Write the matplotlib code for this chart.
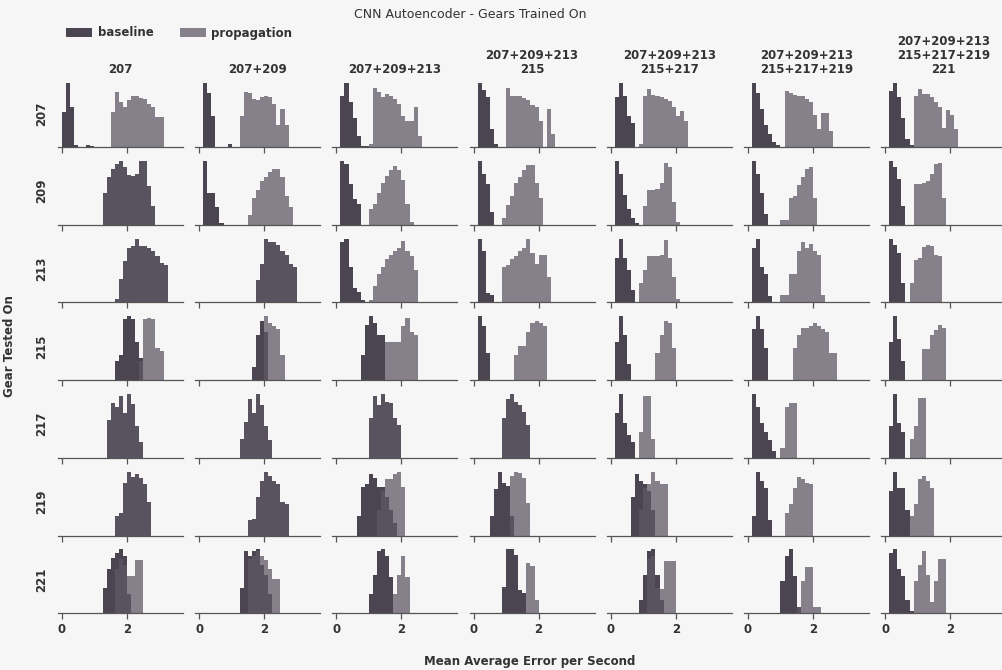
import matplotlib
matplotlib.use("Agg")
import matplotlib.pyplot as plt
from matplotlib.patches import Patch

# ---------------- data ----------------
gears = ["207", "209", "213", "215", "217", "219", "221"]
train_titles = ["207", "207+209", "207+209+213", "207+209+213\n215",
                "207+209+213\n215+217", "207+209+213\n215+217+219",
                "207+209+213\n215+217+219\n221"]
series_names = ["baseline", "propagation"]
BIN = 0.125          # histogram bin width (MAE units)
xticks = [0, 2]

# each entry: (left edge of first bin, bin heights in % of the panel's tallest bin)
# one entry per training-set column
base_207 = [(0.0, [55, 100, 62, 3, 0, 0, 3, 2]), (0.125, [100, 85, 48, 0, 0, 0, 4]),
            (0.125, [80, 100, 70, 45, 18, 2, 2]), (0.125, [100, 90, 78, 28, 4]),
            (0.125, [78, 100, 80, 49, 37]), (0.125, [100, 85, 60, 35, 20, 8, 3]),
            (0.125, [87, 100, 78, 46, 12, 3])]
prop_207 = [(1.5, [55, 86, 70, 63, 74, 80, 80, 77, 75, 68, 62, 47, 47]),
            (1.25, [49, 86, 85, 75, 74, 78, 80, 78, 67, 35, 60, 35]),
            (1.0, [5, 93, 86, 78, 83, 80, 75, 67, 49, 41, 41, 62, 17]),
            (1.0, [93, 80, 80, 80, 77, 73, 66, 62, 40, 0, 60, 20]),
            (0.875, [5, 80, 91, 82, 80, 78, 75, 72, 63, 49, 57, 41]),
            (1.125, [87, 84, 82, 80, 80, 75, 70, 50, 28, 53, 53, 25]),
            (0.875, [80, 91, 83, 83, 78, 70, 62, 30, 58, 50, 28])]

base_209 = [(1.25, [50, 75, 88, 95, 100, 90, 78, 76, 80, 100, 100, 60, 30]),
            (0.125, [100, 50, 50, 27, 3]), (0.125, [100, 95, 63, 40, 32]),
            (0.125, [100, 80, 63, 20]), (0.125, [100, 80, 47, 25, 10, 3]),
            (0.125, [100, 80, 50, 16]), (0.125, [100, 90, 72, 30])]
prop_209 = [(1.25, [50, 75, 88, 95, 100, 90, 78, 76, 80, 100, 100, 60, 30]),
            (1.5, [15, 42, 55, 68, 75, 82, 87, 88, 75, 45, 27]),
            (1.0, [25, 33, 50, 66, 76, 85, 92, 86, 70, 32, 5]),
            (0.875, [10, 31, 45, 66, 75, 85, 93, 93, 65, 42]),
            (1.0, [30, 55, 55, 56, 65, 97, 90, 35, 5]),
            (1.0, [8, 8, 42, 45, 62, 75, 88, 91, 42]),
            (0.875, [63, 63, 65, 68, 80, 95, 97, 42])]

base_213 = [(1.625, [5, 37, 65, 85, 89, 100, 89, 88, 86, 80, 72, 62, 58]),
            (1.75, [35, 60, 100, 94, 95, 90, 80, 75, 60, 55]),
            (0.125, [94, 100, 55, 22, 16, 3]), (0.125, [100, 80, 15, 12]),
            (0.125, [70, 100, 70, 50, 20]), (0.125, [85, 100, 55, 45, 10]),
            (0.125, [100, 90, 78, 30])]
prop_213 = [(1.625, [5, 37, 65, 85, 89, 100, 89, 88, 86, 80, 72, 62, 58]),
            (1.75, [35, 60, 100, 94, 95, 90, 80, 75, 60, 55]),
            (1.0, [3, 25, 45, 55, 68, 74, 80, 86, 96, 80, 72, 50]),
            (0.875, [55, 58, 68, 72, 80, 85, 100, 78, 60, 75, 75, 40]),
            (0.875, [30, 51, 72, 72, 72, 75, 98, 70, 40, 5]),
            (1.0, [12, 12, 45, 45, 80, 95, 85, 92, 80, 74, 12]),
            (0.75, [30, 66, 70, 87, 90, 88, 75, 72])]

base_215 = [(1.625, [30, 40, 95, 100, 95, 60, 35]), (1.625, [20, 70, 92, 75]),
            (0.75, [40, 86, 100, 90, 70, 70]), (0.125, [100, 85, 43]),
            (0.125, [60, 100, 70, 25]), (0.125, [80, 100, 80, 50]),
            (0.125, [60, 100, 65, 30])]
prop_215 = [(2.375, [30, 95, 97, 95, 50, 45]), (2.0, [100, 90, 85, 80, 40]),
            (1.5, [59, 59, 60, 60, 85, 97, 75, 70]),
            (1.25, [40, 54, 54, 75, 89, 92, 90, 85]),
            (1.375, [43, 70, 92, 90, 50]),
            (1.375, [50, 70, 81, 81, 85, 89, 85, 80, 75, 43, 43]),
            (1.125, [48, 48, 70, 78, 86, 81])]

base_217 = [(1.375, [60, 86, 80, 97, 70, 100, 85, 50, 25]),
            (1.25, [30, 56, 92, 70, 100, 83, 50, 28]),
            (1.0, [60, 94, 80, 97, 85, 83, 60, 50]),
            (0.875, [60, 90, 97, 85, 80, 70, 50]),
            (0.125, [70, 100, 55, 35, 25]), (0.125, [100, 80, 55, 40, 28, 10]),
            (0.125, [50, 100, 55, 40])]
prop_217 = [(1.375, [60, 86, 80, 97, 70, 100, 85, 50, 25]),
            (1.25, [30, 56, 92, 70, 100, 83, 50, 28]),
            (1.0, [60, 94, 80, 97, 85, 83, 60, 50]),
            (0.875, [60, 90, 97, 85, 80, 70, 50]),
            (0.875, [40, 97, 97, 30]), (1.0, [15, 80, 86, 86]),
            (0.75, [30, 50, 94, 94])]

base_219 = [(1.625, [30, 35, 82, 100, 92, 97, 90, 80, 53]),
            (1.5, [25, 26, 60, 85, 100, 94, 85, 80, 53, 50]),
            (0.625, [30, 76, 80, 97, 90, 76, 76, 60, 40, 20]),
            (0.5, [30, 70, 97, 80, 76, 30]),
            (0.625, [60, 97, 85, 80, 70, 40]),
            (0.125, [30, 100, 85, 74, 25]), (0.125, [70, 100, 74, 74, 40])]
prop_219 = [(1.625, [30, 35, 82, 100, 92, 97, 90, 80, 53]),
            (1.5, [25, 26, 60, 85, 100, 94, 85, 80, 53, 50]),
            (1.25, [40, 70, 88, 88, 97, 100, 76]),
            (1.125, [90, 97, 95, 88, 50]),
            (0.875, [40, 75, 80, 100, 85, 80, 80]),
            (1.125, [35, 50, 74, 91, 88, 82, 80]),
            (0.75, [30, 50, 88, 94, 85, 74])]

base_221 = [(1.25, [40, 69, 87, 95, 100, 90, 30]),
            (1.25, [40, 97, 89, 97, 100, 75, 60, 30]),
            (1.0, [30, 60, 97, 100, 90, 56]),
            (0.875, [40, 97, 97, 88, 36, 30]),
            (0.875, [20, 60, 97, 100, 60, 20]),
            (1.0, [50, 90, 100, 58, 10]),
            (0.125, [95, 100, 70, 58, 20, 3])]
prop_221 = [(1.625, [70, 85, 75, 58, 58, 84, 84]),
            (1.5, [85, 90, 97, 90, 84, 70, 53, 53]),
            (1.75, [30, 60, 89, 56]),
            (1.625, [76, 72, 20]),
            (1.125, [85, 90, 40, 38, 82, 82, 82]),
            (1.5, [10, 50, 72, 72, 9, 9]),
            (0.875, [50, 76, 98, 60, 18, 50, 85, 85])]

BASE = [base_207, base_209, base_213, base_215, base_217, base_219, base_221]
PROP = [prop_207, prop_209, prop_213, prop_215, prop_217, prop_219, prop_221]

# ---------------- style ----------------
BG = "#f6f6f6"
TXT = "#333333"
C_BASE = "#110a19"
C_PROP = "#5f5966"
ALPHA = 0.75
plt.rcParams["font.family"] = ["DejaVu Sans"]

W, H = 1003, 670
fig = plt.figure(figsize=(W / 100, H / 100), dpi=100, facecolor=BG)

AX_L0, AX_DX, AX_W = 58, 137.2, 125
AX_B0, AX_DY, AX_H = 147, 77.7, 67


def draw_hist(ax, spec, color):
    start, heights = spec
    lefts = [start + i * BIN for i in range(len(heights))]
    ax.bar(lefts, heights, width=BIN, align="edge", color=color,
           alpha=ALPHA, linewidth=0)


for r, gear in enumerate(gears):
    bottom_px = AX_B0 + AX_DY * r
    for c in range(len(train_titles)):
        left_px = AX_L0 + AX_DX * c
        ax = fig.add_axes([left_px / W, 1 - bottom_px / H, AX_W / W, AX_H / H])
        ax.set_facecolor("none")
        draw_hist(ax, BASE[r][c], C_BASE)
        draw_hist(ax, PROP[r][c], C_PROP)
        top = max(max(BASE[r][c][1]), max(PROP[r][c][1]))
        ax.set_ylim(0, top * 1.05)
        ax.set_xlim(-0.12, 3.72)
        ax.set_xticks(xticks)
        ax.tick_params(axis="x", length=4, width=0.9, color="#555555",
                       labelsize=8.5, labelcolor=TXT, pad=3)
        for t in ax.get_xticklabels():
            t.set_fontweight("bold")
        if r < len(gears) - 1:
            ax.set_xticklabels([])
        ax.set_yticks([])
        for s in ["left", "right", "top"]:
            ax.spines[s].set_visible(False)
        ax.spines["bottom"].set_color("#555555")
        ax.spines["bottom"].set_linewidth(0.9)
        if r == 0:
            ax.set_title(train_titles[c], fontsize=8.5, fontweight="bold",
                         color=TXT, pad=5, linespacing=1.1)
    fig.text(42 / W, 1 - (bottom_px - AX_H / 2) / H, gear, rotation=90,
             ha="center", va="center", fontsize=8.5, fontweight="bold", color=TXT)

fig.text(10 / W, 1 - 346 / H, "Gear Tested On", rotation=90, ha="center",
         va="center", fontsize=8.5, fontweight="bold", color=TXT)
fig.text(530 / W, 1 - 661 / H, "Mean Average Error per Second", ha="center",
         va="center", fontsize=8.5, fontweight="bold", color=TXT)
fig.text(470 / W, 1 - 15 / H, "CNN Autoencoder - Gears Trained On", ha="center",
         va="center", fontsize=9, color=TXT)

handles = [Patch(facecolor=C_BASE, alpha=ALPHA, linewidth=0, label=series_names[0]),
           Patch(facecolor=C_PROP, alpha=ALPHA, linewidth=0, label=series_names[1])]
leg = fig.legend(handles=handles, loc="center left",
                 bbox_to_anchor=(66 / W, 1 - 33 / H), ncol=2, frameon=False,
                 handlelength=2.2, handleheight=0.75, handletextpad=0.5,
                 columnspacing=2.2, borderpad=0, borderaxespad=0,
                 prop={"size": 8.5, "weight": "bold"})
for t in leg.get_texts():
    t.set_color(TXT)

fig.savefig("out.png", dpi=100, facecolor=BG)
